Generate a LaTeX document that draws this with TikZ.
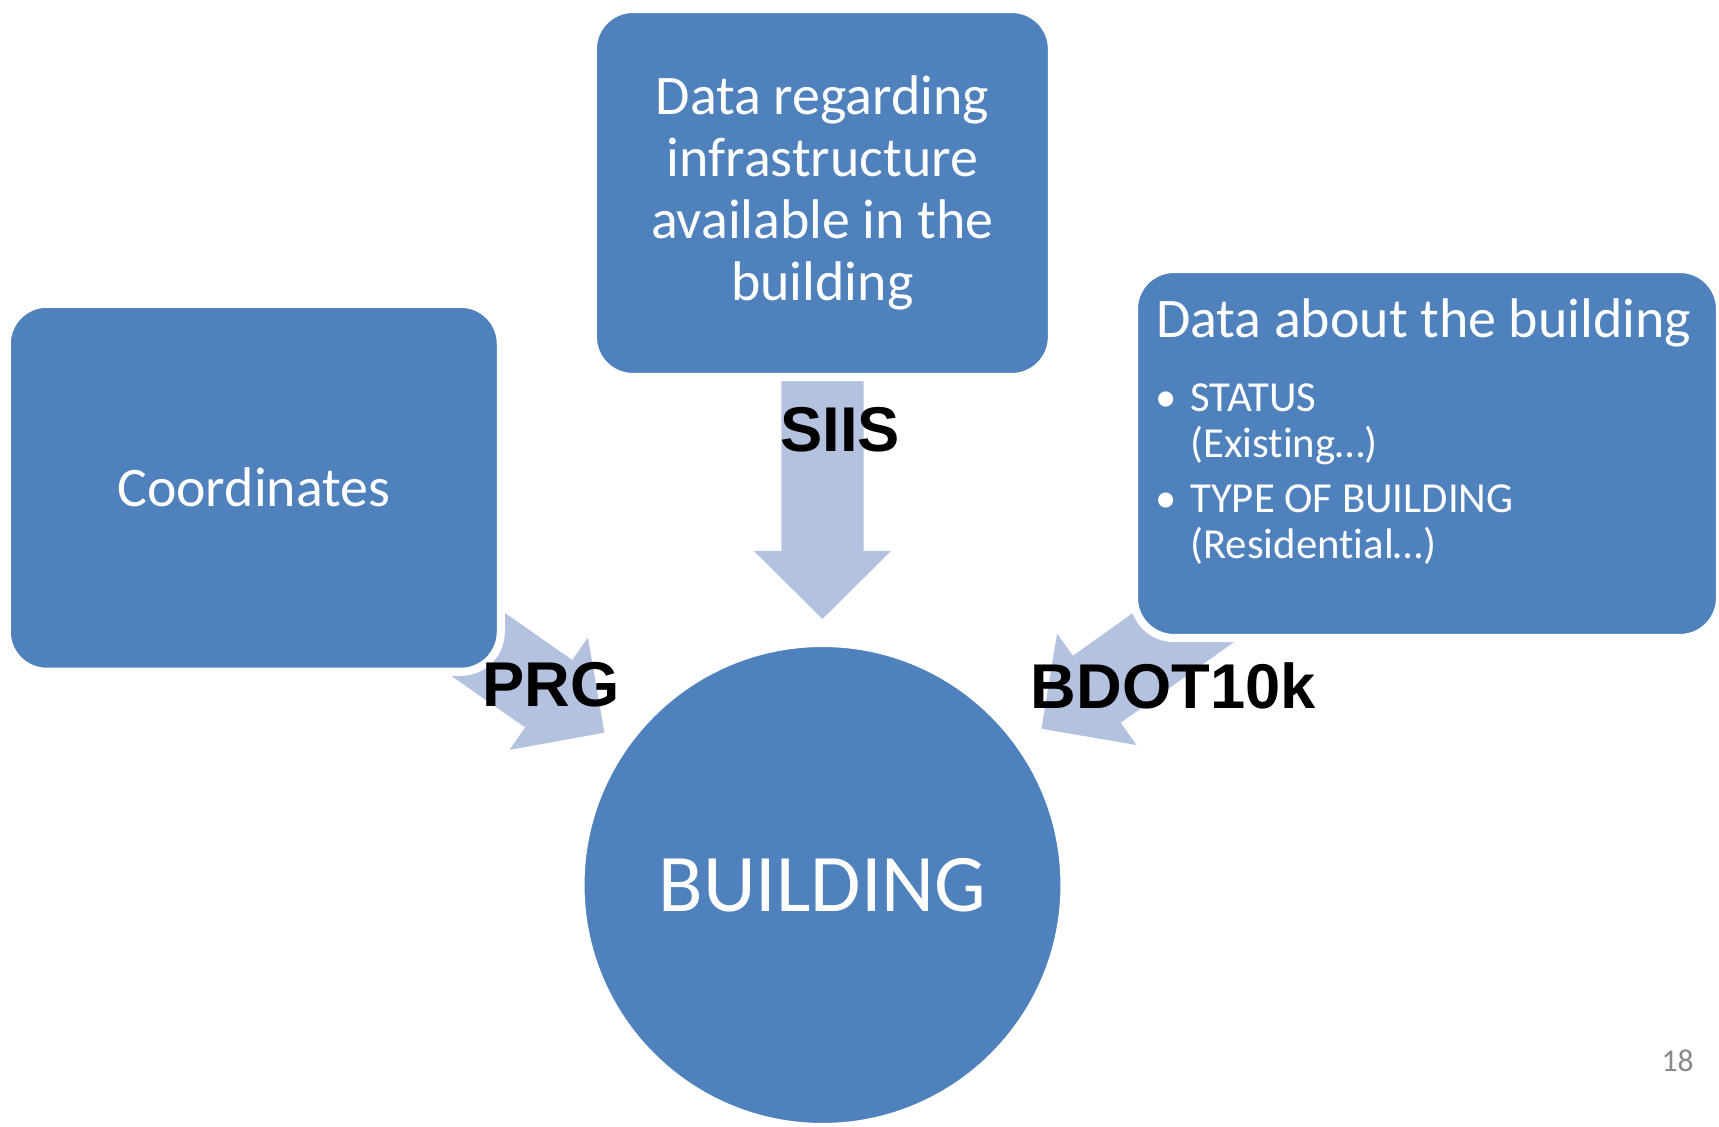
\documentclass[tikz,border=0pt]{standalone}
\usepackage{fontspec}
\setmainfont{Carlito}[Ligatures=NoCommon]
\newfontfamily\labelfont{Liberation Sans}
\usetikzlibrary{positioning,arrows.meta,backgrounds}
\definecolor{boxblue}{HTML}{4F81BD}
\definecolor{arrowblue}{HTML}{B3C3DF}
\definecolor{pagegray}{HTML}{898989}

\begin{document}
\begin{tikzpicture}[
    databox/.style={draw=white, line width=2.3pt, fill=boxblue, rounded corners=0.4cm,
      inner sep=0pt, outer sep=0pt, text=white, align=center,
      font=\fontsize{15.9}{17.7}\selectfont},
    hub/.style={circle, draw=white, line width=2.3pt, fill=boxblue, minimum size=4.84cm,
      inner sep=0pt, outer sep=0pt, text=white, font=\fontsize{23.3}{26}\selectfont},
    flowarrow/.style={draw=arrowblue, line width=0.823cm,
      -{Triangle[width=1.37cm, length=0.68cm, line width=0pt]}},
    source/.style={inner sep=0pt, font=\labelfont\bfseries\fontsize{18}{20}\selectfont},
    boxtext/.style={inner sep=0pt, text=white, anchor=base west},
  ]
    \useasboundingbox (0,0) rectangle (17.19,-11.27);

    % Building in the middle
    \node[hub] (bldg) at (8.225,-8.85) {BUILDING};

    % Three sources of data
    \node[databox, minimum width=4.59cm, minimum height=3.68cm] (infra) at (8.224,-1.93)
        {Data regarding\\infrastructure\\available in the\\building};
    \node[databox, minimum width=4.94cm, minimum height=3.68cm] (coords) at (2.538,-4.878) {Coordinates};
    \node[databox, minimum width=5.86cm, minimum height=3.69cm] (about) at (14.27,-4.535) {};

    \node[boxtext, font=\fontsize{15.9}{17.7}\selectfont] (aboutttl)
        at ([xshift=0.215cm, yshift=-0.687cm]about.north west) {Data about the building};
    \node[boxtext, font=\fontsize{12.17}{13.09}\selectfont] (aboutlst)
        at ([xshift=-0.145cm, yshift=-0.743cm]aboutttl.base west) {%
        \begin{tabular}[t]{@{}l@{}l@{}}
            \makebox[0.486cm]{•} & STATUS\\
             & (Existing…)\\[0.09cm]
            \makebox[0.486cm]{•} & TYPE OF BUILDING\\
             & (Residential…)
        \end{tabular}};

    % Arrows into the building
    \begin{scope}[on background layer]
        \draw[flowarrow, shorten <=0.037cm, shorten >=0.24cm] (infra) -- (bldg);
        \draw[flowarrow, shorten <=-0.312cm, shorten >=0.24cm] (coords) -- (bldg);
        \draw[flowarrow, shorten <=-0.589cm, shorten >=0.27cm] (about) -- (bldg);
    \end{scope}

    \node[source] (siis) at (8.40,-4.30) {SIIS};
    \node[source] (prg) at (5.51,-6.85) {PRG};
    \node[source] (bdot) at (11.733,-6.863) {BDOT10k};

    \node[inner sep=0pt, text=pagegray, font=\fontsize{9}{10}\selectfont] (pagenum) at (16.777,-10.607) {18};
\end{tikzpicture}
\end{document}
